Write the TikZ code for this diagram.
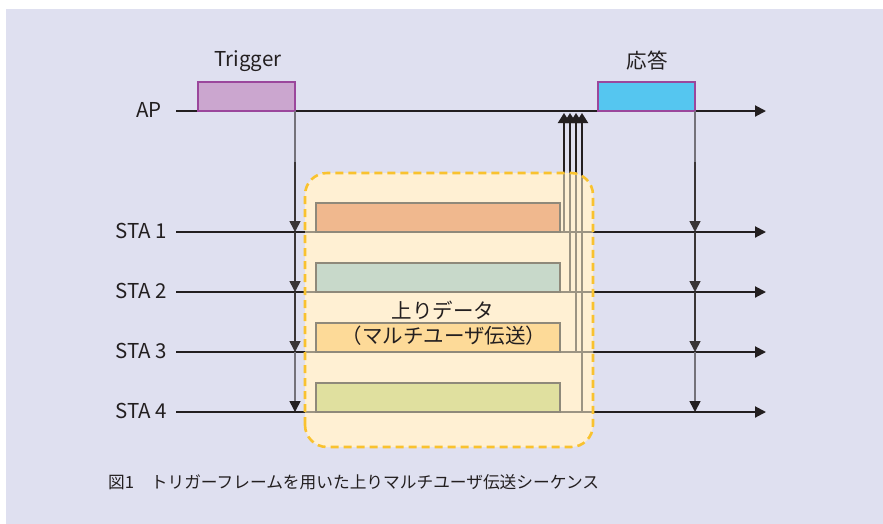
\documentclass[tikz,border=0pt]{standalone}
\usepackage{fontspec}
\setmainfont{Noto Sans CJK JP}
\usetikzlibrary{arrows.meta}
\definecolor{bgc}{HTML}{DFE0F0}
\definecolor{ink}{HTML}{231F20}
\definecolor{purp}{HTML}{9B479C}
\definecolor{trigfill}{HTML}{CBA6CF}
\definecolor{respfill}{HTML}{55C6F0}
\definecolor{dataone}{HTML}{F0B88E}
\definecolor{datatwo}{HTML}{C8D9CA}
\definecolor{datathree}{HTML}{FDDA98}
\definecolor{datafour}{HTML}{E0E09F}
\definecolor{databorder}{HTML}{8F897A}
\definecolor{mufill}{HTML}{FFF0D3}
\definecolor{muborder}{HTML}{F9C22E}
\definecolor{grayline}{HTML}{9C9483}
\definecolor{softline}{HTML}{74727A}
\begin{document}
\begin{tikzpicture}[x=1pt,y=-1pt,
  hline/.style={draw=ink,line width=2pt,-{Triangle[length=11pt,width=11pt]}},
  vline/.style={draw=ink!90,line width=1.6pt,-{Triangle[length=11pt,width=11pt]}},
  softvline/.style={draw=softline,line width=1.6pt,-{Triangle[length=11pt,width=11pt,color=ink]}},
  muline/.style={draw=ink,line width=2pt,-{Triangle[length=10pt,width=12pt]}},
  apframe/.style={draw=purp,line width=2pt,inner sep=0pt,outer sep=0pt,minimum width=97pt,minimum height=29pt},
  databox/.style={draw=databorder,line width=2.6pt,inner sep=0pt,outer sep=0pt,minimum width=244pt,minimum height=29pt},
  lab/.style={text=ink,inner sep=0pt,font=\fontsize{20.5}{24}\selectfont},
  captext/.style={text=ink,inner sep=0pt,font=\fontsize{16.7}{20}\selectfont}]
\useasboundingbox (0,0) rectangle (883,523);
\fill[bgc] (6,9) rectangle (895,535);

% coordinates
\coordinate (apL) at (176,111);
\coordinate (apR) at (766,111);
\foreach \i/\y in {1/232,2/292,3/352,4/412}{
  \coordinate (s\i L) at (176,\y);
  \coordinate (s\i R) at (766,\y);
  \coordinate (t\i) at (295,\y);
  \coordinate (r\i) at (695,\y);
}
\coordinate (tg) at (295,162);
\coordinate (rg) at (695,162);
\coordinate (m1) at (564,232);
\coordinate (m2) at (570,292);
\coordinate (m3) at (576,352);
\coordinate (m4) at (582,412);
\coordinate (n1) at (564,113);
\coordinate (n2) at (570,113);
\coordinate (n3) at (576,113);
\coordinate (n4) at (582,113);

% base lines
\draw[hline] (apL) -- (apR);
\foreach \i in {1,...,4}{
  \draw[hline] (s\i L) -- (s\i R);
  \draw[muline] (m\i) -- (n\i);
}

% multi-user box fill
\node[minimum width=288pt,minimum height=274pt,inner sep=0pt,outer sep=0pt,
  rounded corners=22pt,fill=mufill] (mubox) at (449,310) {};
\begin{scope}
  \clip[rounded corners=22pt] (mubox.south west) rectangle (mubox.north east);
  \foreach \i in {1,...,4}{
    \draw[grayline,line width=1.6pt] (s\i L) -- (s\i R);
    \draw[grayline,line width=1.6pt] (m\i) -- (n\i);
  }
\end{scope}

% data boxes
\node[databox,fill=dataone] (d1) at (438,217.5) {};
\node[databox,fill=datatwo] (d2) at (438,277.5) {};
\node[databox,fill=datathree] (d3) at (438,337.5) {};
\node[databox,fill=datafour] (d4) at (438,397.5) {};

\draw[muborder,line width=2.6pt,dash pattern=on 8pt off 5pt,rounded corners=22pt]
  (mubox.south west) rectangle (mubox.north east);

% AP frames
\node[apframe,fill=trigfill] (trig) at (246.5,96.5) {};
\node[apframe,fill=respfill] (resp) at (646.5,96.5) {};

% trigger and response verticals
\draw[softline,line width=1.6pt] (trig.south east) -- (tg);
\draw[vline] (tg) -- (t1);
\draw[vline] (t1) -- (t2);
\draw[vline] (t2) -- (t3);
\draw[softvline] (t3) -- (t4);
\draw[softline,line width=1.6pt] (resp.south east) -- (rg);
\draw[vline] (rg) -- (r1);
\draw[vline] (r1) -- (r2);
\draw[vline] (r2) -- (r3);
\draw[softvline] (r3) -- (r4);

% labels
\node[lab] (ltrig) at (248,61) {Trigger};
\node[lab] (lresp) at (647,61) {応答};
\node[lab,anchor=east] (lap) at (162,110) {AP};
\node[lab,anchor=east] (ls1) at (167,231) {STA 1};
\node[lab,anchor=east] (ls2) at (167,291) {STA 2};
\node[lab,anchor=east] (ls3) at (167,351) {STA 3};
\node[lab,anchor=east] (ls4) at (167,411) {STA 4};
\node[lab] (lmu1) at (443,310) {上りデータ};
\node[lab] (lmu2) at (444,336) {（マルチユーザ伝送）};
\node[captext,anchor=west] (caption) at (108,482) {図1　トリガーフレームを用いた上りマルチユーザ伝送シーケンス};
\end{tikzpicture}
\end{document}
